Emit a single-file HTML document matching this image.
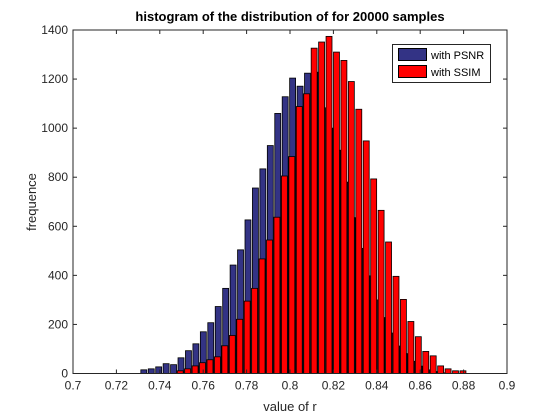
<!DOCTYPE html>
<html><head><meta charset="utf-8"><style>
body{margin:0;background:#fff;}
svg{display:block;font-family:"Liberation Sans",sans-serif;}
</style></head><body>
<svg id="chart" width="560" height="420" viewBox="0 0 560 420">
<rect x="0" y="0" width="560" height="420" fill="#fff"/>
<text x="290" y="21" text-anchor="middle" font-size="13" font-weight="bold" fill="#000">histogram of the distribution of for 20000 samples</text>
<g id="bars"></g>
<g id="axes"></g>
<text x="290" y="411" text-anchor="middle" font-size="13" fill="#262626">value of r</text>
<text transform="translate(36,202) rotate(-90)" text-anchor="middle" font-size="13" fill="#262626">frequence</text>
<g>
<rect x="392.5" y="44.5" width="98" height="38" fill="#fff" stroke="#262626" stroke-width="1"/>
<rect x="398.5" y="48.5" width="28" height="12" fill="#333385" stroke="#000"/>
<text x="431" y="59" font-size="11" fill="#000">with PSNR</text>
<rect x="398.5" y="65.5" width="28" height="12" fill="#ff0000" stroke="#000"/>
<text x="431" y="76" font-size="11" fill="#000">with SSIM</text>
</g>
</svg>
<script>
const binStart = 0.73226;
const binWidth = 0.003429;
const psnrCounts = [15,19,27,40,36,64,93,121,170,207,273,347,442,504,626,756,834,929,1060,1128,1204,1171,1224,1228,1083,1000,910,780,635,510,398,300,228,165,112,81,50,30,15,8,3,0,0,0];
const ssimCounts = [0,0,0,0,0,11,19,31,44,56,68,113,155,221,295,347,467,544,637,805,884,1088,1140,1326,1351,1374,1310,1276,1190,1077,948,793,665,536,396,302,212,150,90,72,31,19,11,11];
const xTicks = [0.7,0.72,0.74,0.76,0.78,0.8,0.82,0.84,0.86,0.88,0.9];
const xTickLabels = ["0.7","0.72","0.74","0.76","0.78","0.8","0.82","0.84","0.86","0.88","0.9"];
const yTicks = [0,200,400,600,800,1000,1200,1400];
const yTickLabels = ["0","200","400","600","800","1000","1200","1400"];

const L=73,R=507,T=30,B=373.5;
const xs = v => L + (v-0.7)/0.2*(R-L);
const ys = v => B - v/1400*(B-T);
const NS="http://www.w3.org/2000/svg";
const bars=document.getElementById('bars');
const axes=document.getElementById('axes');
const bw = binWidth/0.2*(R-L)*0.8;

function drawSeries(counts, color, shift, name){
  counts.forEach((c,i)=>{
    if(c<=0) return;
    const cx = xs(binStart + i*binWidth) + shift;
    const r=document.createElementNS(NS,'rect');
    r.setAttribute('x',cx-bw/2);
    r.setAttribute('y',ys(c));
    r.setAttribute('width',bw);
    r.setAttribute('height',B-ys(c));
    r.setAttribute('fill',color);
    r.setAttribute('stroke','#000');
    r.setAttribute('stroke-width','0.8');
    
    
    bars.appendChild(r);
  });
}
drawSeries(psnrCounts,'#333385',0.8,'psnr');
drawSeries(ssimCounts,'#ff0000',0,'ssim');

const frame=document.createElementNS(NS,'rect');
frame.setAttribute('x',L);frame.setAttribute('y',T);
frame.setAttribute('width',R-L);frame.setAttribute('height',B-T);
frame.setAttribute('fill','none');frame.setAttribute('stroke','#262626');


axes.appendChild(frame);

xTicks.forEach((v,i)=>{
  const x=xs(v);
  [[B,B-4],[T,T+4]].forEach(p=>{
    const l=document.createElementNS(NS,'line');
    l.setAttribute('x1',x);l.setAttribute('x2',x);l.setAttribute('y1',p[0]);l.setAttribute('y2',p[1]);
    l.setAttribute('stroke','#262626');
    
    
    axes.appendChild(l);
  });
  const t=document.createElementNS(NS,'text');
  t.setAttribute('x',x);t.setAttribute('y',B+16);
  t.setAttribute('text-anchor','middle');t.setAttribute('font-size','12');t.setAttribute('fill','#262626');
  t.textContent=xTickLabels[i];
  
  
  axes.appendChild(t);
});
yTicks.forEach((v,i)=>{
  const y=ys(v);
  [[L,L+4],[R,R-4]].forEach(p=>{
    const l=document.createElementNS(NS,'line');
    l.setAttribute('x1',p[0]);l.setAttribute('x2',p[1]);l.setAttribute('y1',y);l.setAttribute('y2',y);
    l.setAttribute('stroke','#262626');
    
    
    axes.appendChild(l);
  });
  const t=document.createElementNS(NS,'text');
  t.setAttribute('x',L-5);t.setAttribute('y',y+4);
  t.setAttribute('text-anchor','end');t.setAttribute('font-size','12');t.setAttribute('fill','#262626');
  t.textContent=yTickLabels[i];
  
  
  axes.appendChild(t);
});
</script>
</body></html>
